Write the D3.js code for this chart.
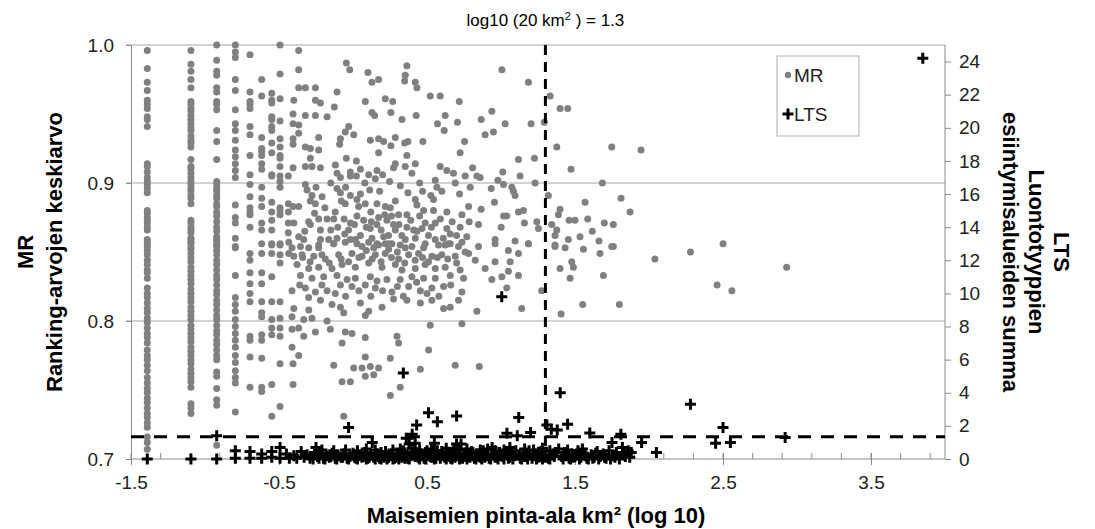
<!DOCTYPE html>
<html>
<head>
<meta charset="utf-8">
<script src="https://cdn.jsdelivr.net/npm/d3@7"></script>
<style>
  body { margin: 0; background: #fff; }
  text { font-family: "Liberation Sans", Arial, sans-serif; }
  .tick-label { font-size: 19px; fill: #222; }
  .axis-title { font-size: 22px; font-weight: bold; fill: #000; }
</style>
</head>
<body>
<svg id="chart" width="1095" height="529"></svg>
<script>
// ---- data ----
var xTicks = [-1.5, -0.5, 0.5, 1.5, 2.5, 3.5];
var mrTicks = [0.7, 0.8, 0.9, 1.0];
var ltsTicks = [0, 2, 4, 6, 8, 10, 12, 14, 16, 18, 20, 22, 24];
var refArea = 1.3;      // log10(20 km2)
var refLts = 1.35;

// MR values in the narrow columns of the smallest landscapes
var mrColumnX = [-1.39, -1.095, -0.921, -0.795, -0.696, -0.617, -0.549, -0.493, -0.437];
var mrColA = [0.996,0.983,0.973,0.967,0.960,0.957,0.954,0.948,0.946,0.941,0.914,0.912,0.908,0.904,0.901,0.899,0.896,0.893,0.880,0.878,0.875,0.873,0.871,0.868,0.866,0.859,0.857,0.855,0.854,0.851,0.848,0.844,0.841,0.837,0.835,0.831,0.824,0.820,0.817,0.813,0.809,0.806,0.802,0.799,0.795,0.791,0.788,0.784,0.779,0.775,0.772,0.768,0.764,0.759,0.755,0.751,0.748,0.744,0.741,0.737,0.733,0.730,0.726,0.723,0.716,0.712,0.707];
var mrColB = [0.996,0.986,0.981,0.975,0.969,0.959,0.957,0.954,0.952,0.949,0.946,0.943,0.940,0.938,0.934,0.931,0.929,0.926,0.917,0.912,0.910,0.907,0.904,0.901,0.899,0.896,0.894,0.891,0.889,0.885,0.873,0.871,0.868,0.866,0.864,0.860,0.857,0.853,0.859,0.856,0.852,0.849,0.846,0.843,0.839,0.836,0.833,0.830,0.827,0.823,0.820,0.817,0.814,0.810,0.807,0.804,0.801,0.797,0.794,0.791,0.788,0.785,0.781,0.778,0.775,0.772,0.769,0.765,0.762,0.759,0.756,0.752,0.740,0.737,0.733];
var mrColC = [1.0,0.989,0.981,0.978,0.969,0.966,0.959,0.957,0.953,0.938,0.930,0.917,0.901,0.899,0.896,0.894,0.891,0.889,0.885,0.883,0.879,0.876,0.872,0.868,0.865,0.861,0.858,0.854,0.859,0.855,0.851,0.848,0.844,0.841,0.837,0.833,0.830,0.826,0.822,0.819,0.815,0.812,0.808,0.804,0.801,0.797,0.793,0.790,0.786,0.783,0.779,0.775,0.772,0.763,0.760,0.751,0.743,0.739,0.710];
var mrColD = [1.0,0.995,0.991,0.975,0.967,0.953,0.943,0.938,0.931,0.924,0.919,0.914,0.909,0.904,0.884,0.875,0.871,0.860,0.854,0.853,0.833,0.817,0.812,0.807,0.801,0.796,0.791,0.786,0.781,0.775,0.770,0.764,0.759,0.755,0.734];
var mrColE = [0.993,0.966,0.959,0.957,0.954,0.941,0.935,0.920,0.906,0.899,0.890,0.882,0.879,0.877,0.868,0.849,0.844,0.835,0.827,0.820,0.814,0.789,0.786,0.774,0.752];
var mrColF = [0.975,0.963,0.933,0.925,0.923,0.920,0.914,0.910,0.897,0.889,0.883,0.871,0.866,0.856,0.849,0.835,0.827,0.814,0.806,0.803,0.790,0.786,0.773,0.752,0.749];
var mrColG = [0.965,0.960,0.958,0.948,0.946,0.941,0.938,0.929,0.922,0.906,0.905,0.886,0.879,0.873,0.866,0.856,0.855,0.849,0.832,0.814,0.801,0.795,0.790,0.754,0.731];
var mrColH = [1.0,0.979,0.961,0.945,0.932,0.926,0.920,0.918,0.912,0.905,0.901,0.897,0.882,0.880,0.877,0.856,0.855,0.848,0.842,0.814,0.802,0.795,0.789,0.769,0.738];
var mrColI = [0.905,0.885,0.879,0.871,0.864];
var mrColumns = [mrColA, mrColB, mrColC, mrColD, mrColE, mrColF, mrColG, mrColH, mrColI];

// MR cloud, upper part [log10 area, MR]
var mrCloudUpper = [
  [-0.367,0.996],[-0.367,0.982],[-0.045,0.987],[-0.022,0.982],[0.101,0.980],[0.128,0.973],[0.173,0.975],[0.364,0.985],
  [0.353,0.978],[0.349,0.974],[0.421,0.973],[0.432,0.969],[-0.367,0.969],[-0.322,0.969],[-0.254,0.969],[-0.108,0.966],
  [0.522,0.963],[0.589,0.963],[0.718,0.959],[0.083,0.959],[0.218,0.961],[0.268,0.959],[-0.40,0.960],[-0.254,0.960],
  [-0.22,0.958],[-0.126,0.955],[-0.405,0.950],[-0.322,0.949],[-0.254,0.949],[-0.175,0.948],[0.128,0.951],[0.146,0.949],
  [0.256,0.951],[0.331,0.946],[0.427,0.949],[-0.405,0.943],[-0.367,0.942],[-0.367,0.936],[0.623,0.949],[0.571,0.943],
  [0.616,0.938],[0.706,0.944],[-0.029,0.941],[-0.052,0.937],[0.005,0.935],[-0.085,0.932],[-0.09,0.928],[-0.232,0.933],
  [-0.405,0.932],[-0.405,0.928],[-0.322,0.926],[-0.288,0.925],[-0.232,0.924],[0.117,0.931],[0.173,0.932],[0.207,0.930],
  [0.286,0.933],[0.256,0.927],[0.349,0.929],[0.371,0.930],[0.472,0.930],[0.173,0.922],[0.754,0.930],[0.724,0.922],
  [-0.288,0.918],[-0.045,0.918],[0.023,0.916],[0.364,0.920],[0.421,0.914],[0.286,0.914],[0.274,0.911],[0.353,0.912],
  [-0.405,0.911],[-0.322,0.912],[-0.277,0.912],[-0.22,0.911],[-0.119,0.913],[-0.108,0.907],[-0.018,0.908],[0.05,0.910],
  [-0.085,0.904],[-0.018,0.905],[0.023,0.905],[0.106,0.906],[0.162,0.909],[0.151,0.903],[0.2,0.906],[0.247,0.901],
  [0.398,0.907],[0.589,0.912],[0.634,0.909],[0.679,0.907],[0.556,0.902],[0.567,0.897],[0.691,0.900],[0.758,0.905],
  [-0.322,0.899],[-0.31,0.895],[-0.277,0.891],[-0.209,0.890],[-0.108,0.896],[-0.085,0.893],[-0.018,0.891],[0.05,0.892],
  [0.113,0.895],[-0.405,0.883],[-0.367,0.883],[-0.288,0.887],[-0.254,0.885],[-0.079,0.887],[-0.052,0.885],[0.027,0.888],
  [0.038,0.883],[0.083,0.885],[0.162,0.885],[0.218,0.883],[0.252,0.882],[0.286,0.887],[0.371,0.893],[0.421,0.888],
  [0.432,0.884],[0.47,0.894],[0.526,0.891],[0.544,0.888],[0.477,0.880],[0.544,0.880],[0.364,0.877],[0.308,0.877],
  [0.634,0.879],[-0.40,0.871],[-0.288,0.870],[-0.232,0.874],[-0.175,0.874],[-0.22,0.866],[-0.13,0.874],[-0.103,0.868],
  [-0.018,0.871],[-0.056,0.863],[-0.108,0.860],[-0.164,0.859],[-0.22,0.859],[-0.333,0.859],[-0.367,0.861],[-0.326,0.865],
  [0.027,0.876],[0.072,0.873],[0.124,0.872],[0.117,0.867],[0.173,0.875],[0.162,0.870],[0.214,0.877],[0.229,0.873],
  [0.274,0.870],[0.286,0.866],[0.364,0.868],[0.432,0.865],[0.466,0.867],[0.488,0.871],[0.556,0.871],[0.634,0.867],
  [0.657,0.863],[0.724,0.868],[0.736,0.877],[0.781,0.883],[0.128,0.860],[0.162,0.856],[0.218,0.856],[0.207,0.861],
  [0.263,0.856],[0.353,0.859],[0.421,0.860],[0.556,0.859],[0.623,0.855],[0.657,0.856],[0.769,0.861],[0.016,0.859],
  [-0.018,0.859],[-0.412,0.853],[-0.232,0.853],[-0.13,0.856],[0.061,0.854],[0.14,0.853],[0.241,0.852],[0.353,0.853],
  [0.477,0.853],[0.713,0.854]
];

// MR cloud, lower part
var mrCloudLower = [
  [-0.434,0.857],[-0.355,0.854],[-0.299,0.853],[-0.232,0.855],[-0.13,0.856],[-0.052,0.857],[0.027,0.856],[0.106,0.857],
  [0.173,0.855],[0.241,0.856],[0.319,0.855],[0.398,0.854],[0.488,0.856],[0.578,0.855],[0.645,0.856],[0.736,0.857],
  [-0.434,0.849],[-0.40,0.847],[-0.344,0.848],[-0.265,0.847],[-0.187,0.845],[-0.097,0.848],[-0.007,0.849],[0.061,0.847],
  [0.151,0.848],[0.218,0.849],[0.308,0.845],[0.376,0.848],[0.443,0.849],[0.533,0.847],[0.6,0.848],[0.691,0.847],
  [0.758,0.850],[-0.378,0.841],[-0.299,0.838],[-0.232,0.839],[-0.142,0.838],[-0.074,0.841],[0.016,0.839],[0.106,0.842],
  [0.196,0.839],[0.286,0.841],[0.331,0.837],[0.421,0.838],[0.488,0.841],[0.556,0.838],[0.623,0.839],[0.724,0.837],
  [-0.355,0.833],[-0.277,0.831],[-0.198,0.832],[-0.108,0.833],[-0.04,0.830],[0.016,0.831],[0.117,0.832],[0.162,0.829],
  [0.229,0.830],[0.319,0.830],[0.398,0.832],[0.477,0.831],[0.556,0.831],[0.657,0.833],[0.747,0.831],[-0.412,0.822],
  [-0.322,0.824],[-0.254,0.821],[-0.175,0.822],[-0.085,0.826],[-0.007,0.825],[0.083,0.826],[0.151,0.824],[0.263,0.821],
  [0.376,0.825],[0.455,0.822],[0.533,0.824],[0.612,0.825],[0.736,0.821],[-0.40,0.809],[-0.299,0.808],[-0.22,0.815],
  [-0.142,0.812],[-0.085,0.810],[-0.063,0.806],[0.05,0.813],[0.083,0.804],[0.106,0.807],[0.196,0.810],[0.274,0.816],
  [0.364,0.815],[0.455,0.813],[0.533,0.815],[0.612,0.809],[0.657,0.810],[0.713,0.815],[-0.412,0.803],[-0.333,0.801],
  [-0.277,0.802],[-0.412,0.794],[-0.367,0.795],[-0.333,0.789],[-0.254,0.792],[-0.175,0.800],[-0.153,0.794],[-0.052,0.792],
  [-0.007,0.791],[0.736,0.798],[0.522,0.797],[-0.412,0.781],[-0.367,0.775],[-0.074,0.784],[0.083,0.788],[0.297,0.789],
  [0.308,0.784],[0.511,0.779],[-0.405,0.769],[-0.13,0.768],[0.005,0.766],[0.061,0.766],[0.083,0.774],[0.117,0.767],
  [0.173,0.766],[0.252,0.773],[0.455,0.765],[0.691,0.768],[0.853,0.767],[0.083,0.760],[0.14,0.761],[-0.074,0.756],
  [-0.018,0.756],[-0.405,0.754],[0.319,0.752],[0.252,0.746],[-0.063,0.731]
];

// MR cloud, the densest middle part
var mrCloudDense = [
  [-0.30,0.872],[-0.26,0.878],[-0.19,0.882],[-0.15,0.866],[-0.12,0.879],[-0.06,0.874],[-0.03,0.866],[0.01,0.870],
  [0.05,0.862],[0.09,0.868],[0.12,0.879],[0.19,0.866],[0.24,0.862],[0.26,0.876],[0.31,0.870],[0.33,0.862],
  [0.39,0.873],[0.41,0.866],[0.45,0.876],[0.51,0.862],[0.53,0.868],[0.59,0.874],[0.61,0.860],[0.67,0.872],[0.70,0.862],
  [-0.34,0.846],[-0.29,0.843],[-0.21,0.848],[-0.16,0.842],[-0.08,0.845],[-0.03,0.843],[0.04,0.846],[0.09,0.851],
  [0.13,0.845],[0.19,0.843],[0.26,0.846],[0.30,0.850],[0.35,0.842],[0.42,0.844],[0.47,0.846],[0.51,0.843],
  [0.57,0.846],[0.64,0.845],[0.70,0.842],[-0.36,0.826],[-0.30,0.817],[-0.21,0.826],[-0.12,0.820],[-0.05,0.818],
  [0.04,0.822],[0.12,0.818],[0.20,0.822],[0.30,0.825],[0.34,0.818],[0.43,0.828],[0.50,0.820],[0.58,0.818],[0.66,0.826],
  [-0.25,0.897],[-0.15,0.900],[-0.05,0.897],[0.08,0.900],[0.18,0.894],[0.32,0.898],[0.45,0.900],[0.60,0.894],[0.72,0.892]
];

// MR cloud, larger landscapes (x > 0.78)
var mrCloudRight = [
  [1.006,0.982],[1.185,0.973],[0.938,0.952],[0.866,0.946],[1.028,0.943],[1.203,0.943],[0.893,0.935],[0.949,0.937],
  [1.118,0.917],[1.226,0.918],[0.808,0.911],[0.837,0.905],[0.859,0.904],[1.012,0.908],[1.129,0.905],[0.792,0.897],
  [0.934,0.896],[0.979,0.902],[1.017,0.899],[1.073,0.897],[1.084,0.894],[1.095,0.891],[1.23,0.900],[0.956,0.886],
  [0.866,0.881],[1.118,0.879],[1.152,0.880],[1.039,0.876],[1.017,0.876],[0.785,0.872],[0.848,0.870],[1.001,0.868],
  [1.158,0.871],[1.242,0.872],[1.253,0.867],[0.96,0.859],[1.095,0.858],[1.185,0.856],[0.848,0.854],[0.781,0.849],
  [0.96,0.856],[1.05,0.851],[1.118,0.849],[1.185,0.856],[0.826,0.844],[0.893,0.838],[0.938,0.830],[1.006,0.832],
  [1.05,0.836],[1.118,0.833],[1.062,0.843],[0.96,0.843],[0.837,0.807],[1.039,0.824],[1.14,0.809],
  [1.293,0.944],[1.332,0.963],[1.399,0.954],[1.451,0.954],[1.377,0.926],[1.748,0.926],[1.946,0.924],[1.473,0.910],
  [1.320,0.891],[1.685,0.900],[1.811,0.889],[1.568,0.886],[1.872,0.879],[1.399,0.881],[1.388,0.877],[1.343,0.870],
  [1.46,0.873],[1.5,0.873],[1.586,0.874],[1.377,0.866],[1.365,0.862],[1.698,0.871],[1.759,0.870],[1.617,0.865],
  [1.534,0.861],[1.455,0.859],[1.662,0.858],[1.365,0.854],[1.748,0.854],[1.275,0.822],[1.365,0.855],[1.433,0.853],
  [1.557,0.852],[1.669,0.849],[1.759,0.854],[2.04,0.845],[1.399,0.838],[1.478,0.843],[1.489,0.839],[1.467,0.831],
  [1.692,0.833],[1.406,0.805],[1.552,0.812],[1.8,0.812],[2.28,0.850],[2.5,0.856],[2.46,0.826],[2.56,0.822],[2.93,0.839]
];

// LTS, the dense band near zero [log10 area, LTS]
var ltsBand = [
  [-1.39,0],[-1.095,0],[-0.921,0],[-0.795,0.05],[-0.795,0.5],[-0.696,0.05],[-0.696,0.45],[-0.617,0.05],[-0.617,0.3],
  [-0.549,0.1],[-0.549,0.45],[-0.493,0.7],[-0.493,0.05],[-0.45,0.3],[-0.43,0.05],[-0.40,0.2],[-0.38,0.05],[-0.35,0.45],
  [-0.33,0.1],[-0.31,0.25],[-0.29,0.05],[-0.25,0.7],[-0.24,0.15],[-0.22,0.35],[-0.20,0.05],[-0.18,0.2],[-0.16,0.1],
  [-0.14,0.35],[-0.12,0.05],[-0.10,0.2],[-0.08,0.1],[-0.06,0.3],[-0.04,0.05],[-0.02,0.15],[0.0,0.35],[0.02,0.05],
  [0.04,0.2],[0.06,0.1],[0.08,0.4],[0.10,0.05],[0.12,0.25],[0.13,1.0],[0.14,0.1],[0.16,0.3],[0.18,0.05],[0.20,0.2],
  [0.22,0.45],[0.24,0.1],[0.26,0.3],[0.28,0.05],[0.30,0.25],[0.32,0.6],[0.33,0.1],[0.35,0.35],[0.37,0.05],[0.38,0.9],
  [0.39,0.2],[0.41,0.4],[0.42,0.95],[0.44,0.1],[0.46,0.3],[0.48,0.05],[0.50,0.5],[0.52,0.15],[0.54,0.35],[0.55,0.95],
  [0.56,0.05],[0.58,0.25],[0.60,0.45],[0.62,0.1],[0.64,0.3],[0.66,0.05],[0.68,0.5],[0.70,0.9],[0.71,0.2],[0.73,0.9],
  [0.74,0.05],[0.76,0.35],[0.78,0.15],[0.80,0.45],[0.82,0.05],[0.84,0.3],[0.86,0.1],[0.88,0.5],[0.90,0.2],[0.92,0.05],
  [0.94,0.7],[0.95,0.3],[0.97,0.1],[0.99,0.4],[1.01,0.15],[1.03,0.35],[1.05,0.05],[1.07,0.45],[1.09,0.2],[1.13,0.05],
  [1.15,0.35],[1.17,0.15],[1.19,0.5],[1.21,0.05],[1.23,0.3],[1.25,0.1],[1.27,0.45],[1.29,0.2],[1.32,0.05],[1.35,0.3],
  [1.39,0.6],[1.41,0.15],[1.43,0.4],[1.46,0.05],[1.48,0.3],[1.50,0.15],[1.52,0.5],[1.54,0.1],[1.56,0.35],[1.58,0.05],
  [1.61,0.25],[1.63,0.1],[1.65,0.45],[1.67,0.15],[1.69,0.3],[1.71,0.05],[1.73,0.5],[1.75,1.0],[1.76,0.2],[1.78,0.4],
  [1.82,0.7],[1.84,0.15],[1.86,0.5],[1.88,0.4],[1.95,1.0],[2.05,0.4],[2.45,0.95],[2.55,1.0]
];

// LTS, more of the band (second row near zero)
var ltsBandLow = [
  [-0.27,0.0],[-0.23,0.05],[-0.19,0.0],[-0.15,0.15],[-0.11,0.0],[-0.07,0.1],[-0.03,0.0],[0.01,0.1],[0.03,0.0],[0.07,0.15],
  [0.09,0.0],[0.11,0.1],[0.15,0.0],[0.17,0.15],[0.19,0.0],[0.21,0.1],[0.23,0.0],[0.25,0.2],[0.27,0.0],[0.29,0.1],
  [0.31,0.0],[0.35,0.05],[0.38,0.0],[0.42,0.15],[0.45,0.0],[0.47,0.2],[0.49,0.0],[0.53,0.1],[0.55,0.0],[0.59,0.05],
  [0.61,0.2],[0.63,0.0],[0.65,0.15],[0.67,0.0],[0.69,0.1],[0.72,0.0],[0.75,0.15],[0.77,0.0],[0.79,0.1],[0.81,0.2],
  [0.83,0.0],[0.85,0.15],[0.87,0.0],[0.89,0.1],[0.91,0.25],[0.93,0.0],[0.96,0.1],[0.98,0.0],[1.0,0.2],[1.02,0.0],
  [1.06,0.1],[1.08,0.0],[1.10,0.25],[1.14,0.0],[1.16,0.15],[1.18,0.0],[1.22,0.2],[1.24,0.0],[1.26,0.15],[1.28,0.0],
  [1.30,0.1],[1.33,0.0],[1.36,0.15],[1.42,0.0],[1.44,0.2],[1.47,0.0],[1.49,0.1],[1.53,0.0],[1.57,0.2],[1.59,0.0],
  [1.62,0.05],[1.66,0.0],[1.70,0.1],[1.74,0.0],[1.77,0.1],[1.80,0.0],[1.83,0.3],[1.87,0.1],
  [-0.26,0.4],[-0.21,0.55],[-0.13,0.5],[-0.05,0.55],[0.03,0.5],[0.09,0.6],[0.15,0.55],[0.19,0.4],[0.27,0.55],[0.34,0.5],
  [0.40,0.65],[0.45,0.55],[0.49,0.4],[0.53,0.6],[0.57,0.5],[0.63,0.65],[0.67,0.4],[0.72,0.55],[0.77,0.6],[0.81,0.4],
  [0.86,0.55],[0.91,0.6],[0.96,0.5],[1.02,0.55],[1.06,0.7],[1.10,0.5],[1.16,0.6],[1.22,0.55],[1.28,0.65],[1.33,0.5],
  [1.37,0.4],[1.45,0.55],[1.51,0.3],[1.55,0.6],[1.64,0.35]
];

// LTS, the higher values
var ltsHigh = [
  [-0.921,1.4],[-0.03,1.9],[0.34,5.2],[0.36,1.25],[0.40,1.5],[0.43,2.05],[0.51,2.8],[0.57,2.25],[0.70,2.6],
  [1.005,9.8],[1.04,1.55],[1.11,1.4],[1.12,2.5],[1.20,1.6],[1.31,2.05],[1.34,1.8],[1.38,1.75],[1.40,4.0],
  [1.45,2.1],[1.60,1.57],[1.81,1.5],[2.28,3.3],[2.5,1.9],[2.92,1.3],[3.85,24.2]
];

// ---- chart ----
var svg = d3.select("#chart");
var plot = {left: 131, right: 945, top: 45, bottom: 459};

var x = d3.scaleLinear().domain([-1.5, 4.0]).range([plot.left, plot.right]);
var yMR = d3.scaleLinear().domain([0.7, 1.0]).range([plot.bottom, plot.top]);
var yLTS = d3.scaleLinear().domain([0, 25]).range([plot.bottom, plot.top]);

// horizontal gridlines
svg.append("g").selectAll("line")
  .data(mrTicks.slice(1))
  .enter().append("line")
    .attr("x1", plot.left - 5).attr("x2", plot.right)
    .attr("y1", function(d) { return yMR(d); })
    .attr("y2", function(d) { return yMR(d); })
    .attr("stroke", "#a6a6a6").attr("stroke-width", 1);

// left axis
var leftAxis = d3.axisLeft(yMR).tickValues(mrTicks).tickSize(5).tickPadding(12)
  .tickFormat(d3.format(".1f"));
var gl = svg.append("g").attr("transform", "translate(" + plot.left + ",0)").call(leftAxis);
gl.select(".domain").attr("stroke", "#8c8c8c");
gl.selectAll(".tick line").attr("stroke", "#8c8c8c");
gl.selectAll(".tick text").attr("class", "tick-label").attr("font-size", null).attr("font-family", null);

// right axis
var rightAxis = d3.axisRight(yLTS).tickValues(ltsTicks).tickSize(6).tickPadding(8);
var gr = svg.append("g").attr("transform", "translate(" + plot.right + ",0)").call(rightAxis);
gr.select(".domain").attr("stroke", "#8c8c8c").attr("d", "M0," + plot.top + "V" + plot.bottom);
gr.selectAll(".tick line").attr("stroke", "#8c8c8c");
gr.selectAll(".tick text").attr("class", "tick-label").attr("font-size", null).attr("font-family", null);

// bottom axis: minor ticks inside, major ticks crossing
var minorTicks = d3.range(0, 28).map(function(i) { return -1.5 + i * 0.2; });
svg.append("g").selectAll("line")
  .data(minorTicks)
  .enter().append("line")
    .attr("x1", function(d) { return x(d); }).attr("x2", function(d) { return x(d); })
    .attr("y1", plot.bottom - 6).attr("y2", plot.bottom)
    .attr("stroke", "#8c8c8c");
var bottomAxis = d3.axisBottom(x).tickValues(xTicks).tickSize(6).tickPadding(11)
  .tickFormat(d3.format(".1f"));
var gb = svg.append("g").attr("transform", "translate(0," + plot.bottom + ")").call(bottomAxis);
gb.select(".domain").attr("stroke", "#8c8c8c").attr("d", "M" + plot.left + ",0H" + plot.right);
gb.selectAll(".tick line").attr("stroke", "#8c8c8c").attr("y1", -6);
gb.selectAll(".tick text").attr("class", "tick-label").attr("font-size", null).attr("font-family", null)
  .text(function(d) { return d3.format(".1f")(d).replace("\u2212", "-"); });

// MR points
var mrPoints = [];
mrColumns.forEach(function(col, i) {
  col.forEach(function(v) { mrPoints.push([mrColumnX[i], v]); });
});
mrPoints = mrPoints.concat(mrCloudUpper, mrCloudLower, mrCloudDense, mrCloudRight);

svg.append("g").selectAll("circle")
  .data(mrPoints)
  .enter().append("circle")
    .attr("cx", function(d) { return x(d[0]); })
    .attr("cy", function(d) { return yMR(d[1]); })
    .attr("r", 3.5)
    .attr("fill", "#808080");

// reference lines
svg.append("line")
  .attr("x1", x(refArea)).attr("x2", x(refArea))
  .attr("y1", plot.top).attr("y2", plot.bottom)
  .attr("stroke", "#000").attr("stroke-width", 3).attr("stroke-dasharray", "10,7");
svg.append("line")
  .attr("x1", plot.left).attr("x2", plot.right)
  .attr("y1", yLTS(refLts)).attr("y2", yLTS(refLts))
  .attr("stroke", "#000").attr("stroke-width", 3).attr("stroke-dasharray", "13,10");

// LTS pluses
var plus = "M-5.5,0H5.5M0,-5.5V5.5";
svg.append("g").selectAll("path")
  .data(ltsBand.concat(ltsBandLow, ltsHigh))
  .enter().append("path")
    .attr("d", plus)
    .attr("transform", function(d) { return "translate(" + x(d[0]) + "," + yLTS(d[1]) + ")"; })
    .attr("stroke", "#000").attr("stroke-width", 3).attr("fill", "none");

// legend
var legend = svg.append("g");
legend.append("rect")
  .attr("x", 777).attr("y", 56).attr("width", 82).attr("height", 80)
  .attr("fill", "#fff").attr("stroke", "#b0b0b0");
legend.append("circle").attr("cx", 788).attr("cy", 75).attr("r", 3.2).attr("fill", "#808080");
legend.append("text").attr("x", 794).attr("y", 82).attr("class", "tick-label").text("MR");
legend.append("path").attr("d", plus).attr("transform", "translate(788,114)")
  .attr("stroke", "#000").attr("stroke-width", 3);
legend.append("text").attr("x", 794).attr("y", 121).attr("class", "tick-label").text("LTS");

// titles
var titleText = svg.append("text").attr("x", x(refArea)).attr("y", 26)
  .attr("text-anchor", "middle").attr("font-size", 17).attr("fill", "#000");
titleText.append("tspan").text("log10 (20 km");
titleText.append("tspan").attr("font-size", 11).attr("dy", -6).text("2");
titleText.append("tspan").attr("dy", 6).text("  ) = 1.3");

svg.append("text").attr("class", "axis-title")
  .attr("x", (plot.left + plot.right) / 2 - 2).attr("y", 523)
  .attr("text-anchor", "middle")
  .text("Maisemien pinta-ala km\u00b2 (log 10)");

var midY = (plot.top + plot.bottom) / 2;
svg.append("text").attr("class", "axis-title")
  .attr("transform", "translate(33," + midY + ") rotate(-90)")
  .attr("text-anchor", "middle").text("MR");
svg.append("text").attr("class", "axis-title")
  .attr("transform", "translate(62," + midY + ") rotate(-90)")
  .attr("text-anchor", "middle").text("Ranking-arvojen keskiarvo");

svg.append("text").attr("class", "axis-title")
  .attr("transform", "translate(1054," + midY + ") rotate(90)")
  .attr("text-anchor", "middle").text("LTS");
svg.append("text").attr("class", "axis-title")
  .attr("transform", "translate(1029," + midY + ") rotate(90)")
  .attr("text-anchor", "middle").text("Luontotyyppien");
svg.append("text").attr("class", "axis-title")
  .attr("transform", "translate(1003," + midY + ") rotate(90)")
  .attr("text-anchor", "middle").text("esiintymisalueiden summa");
</script>
</body>
</html>
